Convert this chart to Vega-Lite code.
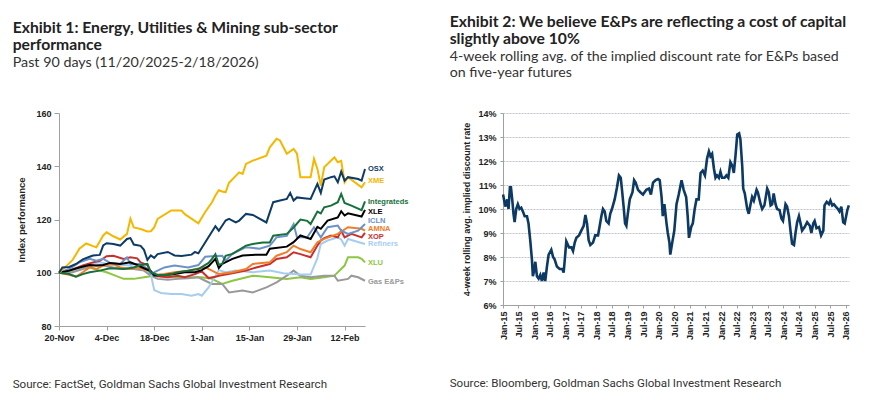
{
  "$schema": "https://vega.github.io/schema/vega-lite/v6.json",
  "padding": {"left": 12, "top": 13, "right": 5, "bottom": 5},
  "background": "white",
  "config": {"view": {"stroke": null}, "font": "Liberation Sans"},
  "spacing": 40,
  "datasets": {
    "perf": [
      {"s":"XLU","d":"2025-11-20","v":100},{"s":"XLU","d":"2025-11-23","v":100.2},{"s":"XLU","d":"2025-11-26","v":101.4},{"s":"XLU","d":"2025-11-28","v":102.7},{"s":"XLU","d":"2025-11-30","v":101.7},{"s":"XLU","d":"2025-12-02","v":100.8},{"s":"XLU","d":"2025-12-04","v":100.2},{"s":"XLU","d":"2025-12-06","v":99.2},{"s":"XLU","d":"2025-12-09","v":97.7},{"s":"XLU","d":"2025-12-12","v":97.7},{"s":"XLU","d":"2025-12-15","v":98.3},{"s":"XLU","d":"2025-12-18","v":98.9},{"s":"XLU","d":"2025-12-21","v":98.9},{"s":"XLU","d":"2025-12-25","v":98.3},{"s":"XLU","d":"2025-12-29","v":98.3},{"s":"XLU","d":"2026-01-01","v":98.3},{"s":"XLU","d":"2026-01-04","v":97.7},{"s":"XLU","d":"2026-01-07","v":95.8},{"s":"XLU","d":"2026-01-10","v":97},{"s":"XLU","d":"2026-01-16","v":98.9},{"s":"XLU","d":"2026-01-21","v":98.3},{"s":"XLU","d":"2026-01-26","v":97.7},{"s":"XLU","d":"2026-01-30","v":98.3},{"s":"XLU","d":"2026-02-02","v":97.7},{"s":"XLU","d":"2026-02-06","v":98.3},{"s":"XLU","d":"2026-02-09","v":98.9},{"s":"XLU","d":"2026-02-12","v":102.7},{"s":"XLU","d":"2026-02-13","v":105.8},{"s":"XLU","d":"2026-02-16","v":105.8},{"s":"XLU","d":"2026-02-17","v":105.2},{"s":"XLU","d":"2026-02-18","v":103.9},
      {"s":"Gas E&Ps","d":"2025-11-20","v":100},{"s":"Gas E&Ps","d":"2025-11-24","v":100.2},{"s":"Gas E&Ps","d":"2025-11-27","v":101.4},{"s":"Gas E&Ps","d":"2025-11-30","v":102.7},{"s":"Gas E&Ps","d":"2025-12-03","v":102.7},{"s":"Gas E&Ps","d":"2025-12-06","v":102},{"s":"Gas E&Ps","d":"2025-12-09","v":101.4},{"s":"Gas E&Ps","d":"2025-12-12","v":101.4},{"s":"Gas E&Ps","d":"2025-12-15","v":100.8},{"s":"Gas E&Ps","d":"2025-12-17","v":98.9},{"s":"Gas E&Ps","d":"2025-12-19","v":97.7},{"s":"Gas E&Ps","d":"2025-12-22","v":97.4},{"s":"Gas E&Ps","d":"2025-12-25","v":97.7},{"s":"Gas E&Ps","d":"2025-12-28","v":97.9},{"s":"Gas E&Ps","d":"2025-12-31","v":98.3},{"s":"Gas E&Ps","d":"2026-01-02","v":97},{"s":"Gas E&Ps","d":"2026-01-04","v":95.8},{"s":"Gas E&Ps","d":"2026-01-07","v":95.8},{"s":"Gas E&Ps","d":"2026-01-09","v":92.6},{"s":"Gas E&Ps","d":"2026-01-13","v":93.3},{"s":"Gas E&Ps","d":"2026-01-16","v":92.6},{"s":"Gas E&Ps","d":"2026-01-20","v":94.5},{"s":"Gas E&Ps","d":"2026-01-23","v":96.4},{"s":"Gas E&Ps","d":"2026-01-26","v":98.9},{"s":"Gas E&Ps","d":"2026-01-28","v":100.8},{"s":"Gas E&Ps","d":"2026-01-30","v":98.9},{"s":"Gas E&Ps","d":"2026-02-02","v":98.3},{"s":"Gas E&Ps","d":"2026-02-06","v":98.9},{"s":"Gas E&Ps","d":"2026-02-09","v":98.9},{"s":"Gas E&Ps","d":"2026-02-10","v":97},{"s":"Gas E&Ps","d":"2026-02-13","v":97.7},{"s":"Gas E&Ps","d":"2026-02-14","v":98.9},{"s":"Gas E&Ps","d":"2026-02-16","v":98.3},{"s":"Gas E&Ps","d":"2026-02-18","v":97},
      {"s":"Refiners","d":"2025-11-20","v":100},{"s":"Refiners","d":"2025-11-25","v":101.4},{"s":"Refiners","d":"2025-11-29","v":103.3},{"s":"Refiners","d":"2025-12-02","v":103.9},{"s":"Refiners","d":"2025-12-04","v":103.3},{"s":"Refiners","d":"2025-12-07","v":102.7},{"s":"Refiners","d":"2025-12-10","v":102.9},{"s":"Refiners","d":"2025-12-13","v":102},{"s":"Refiners","d":"2025-12-16","v":101.4},{"s":"Refiners","d":"2025-12-17","v":99.5},{"s":"Refiners","d":"2025-12-18","v":93.5},{"s":"Refiners","d":"2025-12-20","v":92.4},{"s":"Refiners","d":"2025-12-23","v":92},{"s":"Refiners","d":"2025-12-26","v":92},{"s":"Refiners","d":"2025-12-29","v":91.4},{"s":"Refiners","d":"2025-12-31","v":92},{"s":"Refiners","d":"2026-01-01","v":91.4},{"s":"Refiners","d":"2026-01-03","v":94.5},{"s":"Refiners","d":"2026-01-06","v":101},{"s":"Refiners","d":"2026-01-08","v":100.2},{"s":"Refiners","d":"2026-01-11","v":100.8},{"s":"Refiners","d":"2026-01-16","v":100.2},{"s":"Refiners","d":"2026-01-21","v":100.8},{"s":"Refiners","d":"2026-01-25","v":99.8},{"s":"Refiners","d":"2026-01-30","v":99.3},{"s":"Refiners","d":"2026-02-02","v":99.3},{"s":"Refiners","d":"2026-02-04","v":105.5},{"s":"Refiners","d":"2026-02-05","v":110.8},{"s":"Refiners","d":"2026-02-07","v":112.1},{"s":"Refiners","d":"2026-02-10","v":113.3},{"s":"Refiners","d":"2026-02-11","v":112.5},{"s":"Refiners","d":"2026-02-12","v":110.2},{"s":"Refiners","d":"2026-02-13","v":112.7},{"s":"Refiners","d":"2026-02-18","v":110.8},
      {"s":"XOP","d":"2025-11-20","v":100},{"s":"XOP","d":"2025-11-23","v":100.8},{"s":"XOP","d":"2025-11-27","v":102.7},{"s":"XOP","d":"2025-11-30","v":103.9},{"s":"XOP","d":"2025-12-02","v":104.5},{"s":"XOP","d":"2025-12-04","v":106.2},{"s":"XOP","d":"2025-12-06","v":106.4},{"s":"XOP","d":"2025-12-09","v":105.2},{"s":"XOP","d":"2025-12-11","v":105.8},{"s":"XOP","d":"2025-12-13","v":105.4},{"s":"XOP","d":"2025-12-14","v":103.9},{"s":"XOP","d":"2025-12-16","v":102.9},{"s":"XOP","d":"2025-12-17","v":100.2},{"s":"XOP","d":"2025-12-19","v":98.7},{"s":"XOP","d":"2025-12-22","v":98.3},{"s":"XOP","d":"2025-12-25","v":98.9},{"s":"XOP","d":"2025-12-27","v":98.3},{"s":"XOP","d":"2025-12-30","v":99.5},{"s":"XOP","d":"2026-01-01","v":100.5},{"s":"XOP","d":"2026-01-03","v":98},{"s":"XOP","d":"2026-01-05","v":98.5},{"s":"XOP","d":"2026-01-06","v":98.9},{"s":"XOP","d":"2026-01-10","v":99.8},{"s":"XOP","d":"2026-01-14","v":100.8},{"s":"XOP","d":"2026-01-17","v":102},{"s":"XOP","d":"2026-01-21","v":103.3},{"s":"XOP","d":"2026-01-23","v":105.2},{"s":"XOP","d":"2026-01-26","v":105.8},{"s":"XOP","d":"2026-01-28","v":107.7},{"s":"XOP","d":"2026-01-30","v":107},{"s":"XOP","d":"2026-02-02","v":105.8},{"s":"XOP","d":"2026-02-04","v":110.2},{"s":"XOP","d":"2026-02-05","v":112.1},{"s":"XOP","d":"2026-02-06","v":113},{"s":"XOP","d":"2026-02-08","v":114},{"s":"XOP","d":"2026-02-10","v":113.3},{"s":"XOP","d":"2026-02-11","v":115.8},{"s":"XOP","d":"2026-02-12","v":113.3},{"s":"XOP","d":"2026-02-14","v":114.6},{"s":"XOP","d":"2026-02-17","v":113.3},{"s":"XOP","d":"2026-02-18","v":115},
      {"s":"AMNA","d":"2025-11-20","v":100},{"s":"AMNA","d":"2025-11-23","v":99.2},{"s":"AMNA","d":"2025-11-25","v":98.5},{"s":"AMNA","d":"2025-11-27","v":100.2},{"s":"AMNA","d":"2025-11-29","v":102},{"s":"AMNA","d":"2025-12-01","v":101.4},{"s":"AMNA","d":"2025-12-03","v":102.7},{"s":"AMNA","d":"2025-12-06","v":103.3},{"s":"AMNA","d":"2025-12-08","v":102},{"s":"AMNA","d":"2025-12-11","v":101.4},{"s":"AMNA","d":"2025-12-13","v":102},{"s":"AMNA","d":"2025-12-15","v":101.4},{"s":"AMNA","d":"2025-12-17","v":100.2},{"s":"AMNA","d":"2025-12-18","v":99.2},{"s":"AMNA","d":"2025-12-21","v":99.5},{"s":"AMNA","d":"2025-12-24","v":100.2},{"s":"AMNA","d":"2025-12-28","v":100.8},{"s":"AMNA","d":"2025-12-31","v":101.6},{"s":"AMNA","d":"2026-01-02","v":102},{"s":"AMNA","d":"2026-01-04","v":100.8},{"s":"AMNA","d":"2026-01-06","v":99.5},{"s":"AMNA","d":"2026-01-10","v":100.2},{"s":"AMNA","d":"2026-01-14","v":101.4},{"s":"AMNA","d":"2026-01-16","v":103.3},{"s":"AMNA","d":"2026-01-21","v":103.9},{"s":"AMNA","d":"2026-01-23","v":106.4},{"s":"AMNA","d":"2026-01-26","v":107.7},{"s":"AMNA","d":"2026-01-28","v":110.2},{"s":"AMNA","d":"2026-01-30","v":108.9},{"s":"AMNA","d":"2026-02-02","v":107.7},{"s":"AMNA","d":"2026-02-04","v":111.4},{"s":"AMNA","d":"2026-02-06","v":112.7},{"s":"AMNA","d":"2026-02-10","v":114.6},{"s":"AMNA","d":"2026-02-13","v":117.1},{"s":"AMNA","d":"2026-02-17","v":116.5},{"s":"AMNA","d":"2026-02-18","v":115.8},
      {"s":"ICLN","d":"2025-11-20","v":100},{"s":"ICLN","d":"2025-11-23","v":101.4},{"s":"ICLN","d":"2025-11-26","v":103.9},{"s":"ICLN","d":"2025-11-29","v":105.2},{"s":"ICLN","d":"2025-12-01","v":104.5},{"s":"ICLN","d":"2025-12-03","v":105.2},{"s":"ICLN","d":"2025-12-05","v":103.7},{"s":"ICLN","d":"2025-12-08","v":103.3},{"s":"ICLN","d":"2025-12-10","v":105.8},{"s":"ICLN","d":"2025-12-11","v":103.3},{"s":"ICLN","d":"2025-12-14","v":103.3},{"s":"ICLN","d":"2025-12-16","v":101.4},{"s":"ICLN","d":"2025-12-17","v":99.5},{"s":"ICLN","d":"2025-12-19","v":100.8},{"s":"ICLN","d":"2025-12-21","v":102},{"s":"ICLN","d":"2025-12-24","v":102.7},{"s":"ICLN","d":"2025-12-28","v":102},{"s":"ICLN","d":"2025-12-31","v":102.9},{"s":"ICLN","d":"2026-01-02","v":106},{"s":"ICLN","d":"2026-01-04","v":106.2},{"s":"ICLN","d":"2026-01-07","v":106.4},{"s":"ICLN","d":"2026-01-08","v":104.5},{"s":"ICLN","d":"2026-01-10","v":107.1},{"s":"ICLN","d":"2026-01-14","v":109.6},{"s":"ICLN","d":"2026-01-18","v":109},{"s":"ICLN","d":"2026-01-21","v":110.2},{"s":"ICLN","d":"2026-01-23","v":113.3},{"s":"ICLN","d":"2026-01-26","v":113.9},{"s":"ICLN","d":"2026-01-28","v":118.3},{"s":"ICLN","d":"2026-01-29","v":113.3},{"s":"ICLN","d":"2026-02-01","v":113.3},{"s":"ICLN","d":"2026-02-03","v":117.1},{"s":"ICLN","d":"2026-02-05","v":113.3},{"s":"ICLN","d":"2026-02-07","v":117.1},{"s":"ICLN","d":"2026-02-10","v":117.7},{"s":"ICLN","d":"2026-02-11","v":115.8},{"s":"ICLN","d":"2026-02-13","v":114.6},{"s":"ICLN","d":"2026-02-16","v":115.8},{"s":"ICLN","d":"2026-02-18","v":118.3},
      {"s":"XLE","d":"2025-11-20","v":100},{"s":"XLE","d":"2025-11-23","v":100.8},{"s":"XLE","d":"2025-11-26","v":102},{"s":"XLE","d":"2025-11-29","v":102.9},{"s":"XLE","d":"2025-12-01","v":102.7},{"s":"XLE","d":"2025-12-03","v":102.9},{"s":"XLE","d":"2025-12-05","v":103.7},{"s":"XLE","d":"2025-12-08","v":103.3},{"s":"XLE","d":"2025-12-11","v":103.9},{"s":"XLE","d":"2025-12-13","v":102.9},{"s":"XLE","d":"2025-12-15","v":101.7},{"s":"XLE","d":"2025-12-17","v":100.6},{"s":"XLE","d":"2025-12-18","v":99},{"s":"XLE","d":"2025-12-21","v":99.2},{"s":"XLE","d":"2025-12-24","v":99.5},{"s":"XLE","d":"2025-12-27","v":100.2},{"s":"XLE","d":"2025-12-30","v":100.2},{"s":"XLE","d":"2026-01-01","v":101},{"s":"XLE","d":"2026-01-03","v":102.5},{"s":"XLE","d":"2026-01-05","v":105.2},{"s":"XLE","d":"2026-01-06","v":101.8},{"s":"XLE","d":"2026-01-07","v":103.3},{"s":"XLE","d":"2026-01-10","v":105.2},{"s":"XLE","d":"2026-01-13","v":106.5},{"s":"XLE","d":"2026-01-17","v":106.8},{"s":"XLE","d":"2026-01-20","v":106.8},{"s":"XLE","d":"2026-01-21","v":109},{"s":"XLE","d":"2026-01-26","v":109.8},{"s":"XLE","d":"2026-01-28","v":111.5},{"s":"XLE","d":"2026-01-30","v":114},{"s":"XLE","d":"2026-02-02","v":112.7},{"s":"XLE","d":"2026-02-04","v":117.2},{"s":"XLE","d":"2026-02-05","v":116.5},{"s":"XLE","d":"2026-02-07","v":119.6},{"s":"XLE","d":"2026-02-10","v":120.8},{"s":"XLE","d":"2026-02-11","v":123.1},{"s":"XLE","d":"2026-02-12","v":121.5},{"s":"XLE","d":"2026-02-13","v":122.3},{"s":"XLE","d":"2026-02-17","v":121.1},{"s":"XLE","d":"2026-02-18","v":123.6},
      {"s":"Integrateds","d":"2025-11-20","v":100},{"s":"Integrateds","d":"2025-11-23","v":99.5},{"s":"Integrateds","d":"2025-11-25","v":98.5},{"s":"Integrateds","d":"2025-11-27","v":99.5},{"s":"Integrateds","d":"2025-11-29","v":100.2},{"s":"Integrateds","d":"2025-12-02","v":100.8},{"s":"Integrateds","d":"2025-12-05","v":101.7},{"s":"Integrateds","d":"2025-12-09","v":101.4},{"s":"Integrateds","d":"2025-12-12","v":102},{"s":"Integrateds","d":"2025-12-14","v":102.9},{"s":"Integrateds","d":"2025-12-16","v":103.3},{"s":"Integrateds","d":"2025-12-17","v":100.2},{"s":"Integrateds","d":"2025-12-19","v":99.2},{"s":"Integrateds","d":"2025-12-22","v":99.2},{"s":"Integrateds","d":"2025-12-25","v":100.2},{"s":"Integrateds","d":"2025-12-28","v":100.8},{"s":"Integrateds","d":"2025-12-31","v":101.4},{"s":"Integrateds","d":"2026-01-03","v":103.7},{"s":"Integrateds","d":"2026-01-04","v":105.2},{"s":"Integrateds","d":"2026-01-05","v":107},{"s":"Integrateds","d":"2026-01-06","v":103},{"s":"Integrateds","d":"2026-01-07","v":103.3},{"s":"Integrateds","d":"2026-01-08","v":106.4},{"s":"Integrateds","d":"2026-01-10","v":107.1},{"s":"Integrateds","d":"2026-01-14","v":110.2},{"s":"Integrateds","d":"2026-01-16","v":110.8},{"s":"Integrateds","d":"2026-01-19","v":111.4},{"s":"Integrateds","d":"2026-01-21","v":111.4},{"s":"Integrateds","d":"2026-01-22","v":113.9},{"s":"Integrateds","d":"2026-01-26","v":114.6},{"s":"Integrateds","d":"2026-01-28","v":117},{"s":"Integrateds","d":"2026-01-30","v":120},{"s":"Integrateds","d":"2026-02-01","v":119.5},{"s":"Integrateds","d":"2026-02-02","v":118.3},{"s":"Integrateds","d":"2026-02-04","v":123},{"s":"Integrateds","d":"2026-02-05","v":122.3},{"s":"Integrateds","d":"2026-02-06","v":124.6},{"s":"Integrateds","d":"2026-02-08","v":125.2},{"s":"Integrateds","d":"2026-02-10","v":126.5},{"s":"Integrateds","d":"2026-02-11","v":129.6},{"s":"Integrateds","d":"2026-02-12","v":126.2},{"s":"Integrateds","d":"2026-02-14","v":125.2},{"s":"Integrateds","d":"2026-02-17","v":123.5},{"s":"Integrateds","d":"2026-02-18","v":126.8},
      {"s":"XME","d":"2025-11-20","v":100},{"s":"XME","d":"2025-11-22","v":102.3},{"s":"XME","d":"2025-11-24","v":104.8},{"s":"XME","d":"2025-11-26","v":109},{"s":"XME","d":"2025-11-28","v":111},{"s":"XME","d":"2025-11-30","v":110},{"s":"XME","d":"2025-12-01","v":109.6},{"s":"XME","d":"2025-12-03","v":114},{"s":"XME","d":"2025-12-04","v":115.2},{"s":"XME","d":"2025-12-06","v":113.7},{"s":"XME","d":"2025-12-08","v":112.5},{"s":"XME","d":"2025-12-10","v":114.6},{"s":"XME","d":"2025-12-11","v":120.3},{"s":"XME","d":"2025-12-12","v":117},{"s":"XME","d":"2025-12-14","v":116.4},{"s":"XME","d":"2025-12-16","v":115.5},{"s":"XME","d":"2025-12-17","v":115.6},{"s":"XME","d":"2025-12-18","v":117},{"s":"XME","d":"2025-12-19","v":120.2},{"s":"XME","d":"2025-12-23","v":123.4},{"s":"XME","d":"2025-12-26","v":123.4},{"s":"XME","d":"2025-12-27","v":122},{"s":"XME","d":"2025-12-31","v":118.6},{"s":"XME","d":"2026-01-02","v":122.8},{"s":"XME","d":"2026-01-04","v":126.5},{"s":"XME","d":"2026-01-05","v":129},{"s":"XME","d":"2026-01-06","v":131},{"s":"XME","d":"2026-01-07","v":130.5},{"s":"XME","d":"2026-01-08","v":130.2},{"s":"XME","d":"2026-01-09","v":133.8},{"s":"XME","d":"2026-01-12","v":137.7},{"s":"XME","d":"2026-01-13","v":137.1},{"s":"XME","d":"2026-01-14","v":140.9},{"s":"XME","d":"2026-01-16","v":142.1},{"s":"XME","d":"2026-01-20","v":144},{"s":"XME","d":"2026-01-21","v":147.1},{"s":"XME","d":"2026-01-23","v":150.3},{"s":"XME","d":"2026-01-24","v":149.7},{"s":"XME","d":"2026-01-26","v":144.7},{"s":"XME","d":"2026-01-28","v":146.5},{"s":"XME","d":"2026-01-29","v":144.7},{"s":"XME","d":"2026-01-30","v":135.9},{"s":"XME","d":"2026-02-02","v":135.9},{"s":"XME","d":"2026-02-03","v":142.8},{"s":"XME","d":"2026-02-04","v":139},{"s":"XME","d":"2026-02-05","v":132.7},{"s":"XME","d":"2026-02-06","v":139.6},{"s":"XME","d":"2026-02-09","v":143.4},{"s":"XME","d":"2026-02-10","v":141.5},{"s":"XME","d":"2026-02-11","v":142},{"s":"XME","d":"2026-02-12","v":134},{"s":"XME","d":"2026-02-13","v":135.9},{"s":"XME","d":"2026-02-17","v":132.1},{"s":"XME","d":"2026-02-18","v":134},
      {"s":"OSX","d":"2025-11-20","v":100},{"s":"OSX","d":"2025-11-21","v":102},{"s":"OSX","d":"2025-11-23","v":102.2},{"s":"OSX","d":"2025-11-25","v":103.3},{"s":"OSX","d":"2025-11-27","v":105},{"s":"OSX","d":"2025-11-29","v":106},{"s":"OSX","d":"2025-11-30","v":106.5},{"s":"OSX","d":"2025-12-02","v":106.7},{"s":"OSX","d":"2025-12-03","v":110.3},{"s":"OSX","d":"2025-12-04","v":111.1},{"s":"OSX","d":"2025-12-06","v":110.8},{"s":"OSX","d":"2025-12-08","v":110.2},{"s":"OSX","d":"2025-12-10","v":112.7},{"s":"OSX","d":"2025-12-11","v":113},{"s":"OSX","d":"2025-12-12","v":110.6},{"s":"OSX","d":"2025-12-14","v":110.1},{"s":"OSX","d":"2025-12-15","v":108.6},{"s":"OSX","d":"2025-12-16","v":104.8},{"s":"OSX","d":"2025-12-17","v":106.5},{"s":"OSX","d":"2025-12-18","v":105.6},{"s":"OSX","d":"2025-12-19","v":107},{"s":"OSX","d":"2025-12-22","v":107.8},{"s":"OSX","d":"2025-12-24","v":106.5},{"s":"OSX","d":"2025-12-26","v":106.3},{"s":"OSX","d":"2025-12-29","v":106.8},{"s":"OSX","d":"2025-12-30","v":107.8},{"s":"OSX","d":"2025-12-31","v":107.3},{"s":"OSX","d":"2026-01-03","v":113.4},{"s":"OSX","d":"2026-01-05","v":117.5},{"s":"OSX","d":"2026-01-06","v":115.8},{"s":"OSX","d":"2026-01-08","v":119.6},{"s":"OSX","d":"2026-01-09","v":120.2},{"s":"OSX","d":"2026-01-11","v":118.9},{"s":"OSX","d":"2026-01-12","v":119.6},{"s":"OSX","d":"2026-01-14","v":122.1},{"s":"OSX","d":"2026-01-16","v":121.7},{"s":"OSX","d":"2026-01-20","v":118.9},{"s":"OSX","d":"2026-01-22","v":126.5},{"s":"OSX","d":"2026-01-24","v":127.1},{"s":"OSX","d":"2026-01-26","v":127.7},{"s":"OSX","d":"2026-01-27","v":130},{"s":"OSX","d":"2026-01-28","v":127.1},{"s":"OSX","d":"2026-01-29","v":128.3},{"s":"OSX","d":"2026-01-31","v":128},{"s":"OSX","d":"2026-02-02","v":127.7},{"s":"OSX","d":"2026-02-04","v":133.4},{"s":"OSX","d":"2026-02-05","v":130},{"s":"OSX","d":"2026-02-06","v":135},{"s":"OSX","d":"2026-02-08","v":135.9},{"s":"OSX","d":"2026-02-09","v":136.2},{"s":"OSX","d":"2026-02-10","v":134},{"s":"OSX","d":"2026-02-11","v":138},{"s":"OSX","d":"2026-02-12","v":134.6},{"s":"OSX","d":"2026-02-13","v":135.9},{"s":"OSX","d":"2026-02-16","v":135.2},{"s":"OSX","d":"2026-02-17","v":134.6},{"s":"OSX","d":"2026-02-18","v":139}
    ],
    "labels": [
      {"s":"OSX","d":"2026-02-18","v":138.9},{"s":"XME","d":"2026-02-18","v":134.3},{"s":"Integrateds","d":"2026-02-18","v":126.5},{"s":"XLE","d":"2026-02-18","v":122.7},{"s":"ICLN","d":"2026-02-18","v":119.4},{"s":"AMNA","d":"2026-02-18","v":116.5},{"s":"XOP","d":"2026-02-18","v":113.6},{"s":"Refiners","d":"2026-02-18","v":110.7},{"s":"XLU","d":"2026-02-18","v":103.5},{"s":"Gas E&Ps","d":"2026-02-18","v":96.4}
    ],
    "rate": [
      {"d":"2015-01-02","v":10.6},{"d":"2015-01-28","v":10.1},{"d":"2015-02-20","v":10.4},{"d":"2015-03-07","v":10.0},{"d":"2015-03-23","v":10.9},{"d":"2015-04-04","v":10.9},{"d":"2015-04-19","v":10.4},{"d":"2015-05-04","v":9.8},{"d":"2015-05-17","v":9.45},{"d":"2015-06-05","v":10.0},{"d":"2015-06-24","v":10.2},{"d":"2015-07-14","v":10.0},{"d":"2015-08-03","v":10.05},{"d":"2015-08-22","v":9.9},{"d":"2015-09-12","v":9.7},{"d":"2015-10-09","v":9.7},{"d":"2015-10-27","v":9.4},{"d":"2015-11-16","v":8.7},{"d":"2015-12-06","v":7.9},{"d":"2015-12-17","v":7.2},{"d":"2015-12-30","v":7.4},
      {"d":"2016-01-15","v":7.8},{"d":"2016-02-03","v":7.2},{"d":"2016-02-23","v":7.1},{"d":"2016-03-13","v":7.25},{"d":"2016-04-01","v":7.0},{"d":"2016-04-21","v":7.35},{"d":"2016-05-10","v":7.0},{"d":"2016-05-30","v":7.6},{"d":"2016-06-19","v":8.1},{"d":"2016-07-20","v":8.3},{"d":"2016-08-10","v":8.0},{"d":"2016-08-28","v":7.9},{"d":"2016-09-24","v":7.6},{"d":"2016-10-26","v":7.5},{"d":"2016-11-26","v":7.5},{"d":"2016-12-12","v":7.35},{"d":"2016-12-28","v":8.0},
      {"d":"2017-01-12","v":8.65},{"d":"2017-02-13","v":8.4},{"d":"2017-03-13","v":8.4},{"d":"2017-04-01","v":8.25},{"d":"2017-04-21","v":8.6},{"d":"2017-05-10","v":8.8},{"d":"2017-06-10","v":8.9},{"d":"2017-07-07","v":9.1},{"d":"2017-08-04","v":9.3},{"d":"2017-08-24","v":9.75},{"d":"2017-09-12","v":9.4},{"d":"2017-10-01","v":8.7},{"d":"2017-10-21","v":8.5},{"d":"2017-11-21","v":8.6},{"d":"2017-12-17","v":8.9},
      {"d":"2018-01-19","v":8.9},{"d":"2018-02-08","v":9.3},{"d":"2018-02-27","v":9.7},{"d":"2018-03-18","v":10.0},{"d":"2018-04-07","v":9.9},{"d":"2018-04-26","v":9.5},{"d":"2018-05-23","v":9.4},{"d":"2018-06-11","v":9.8},{"d":"2018-07-01","v":10.0},{"d":"2018-08-02","v":10.4},{"d":"2018-08-29","v":10.9},{"d":"2018-09-21","v":11.4},{"d":"2018-10-12","v":11.3},{"d":"2018-10-27","v":10.8},{"d":"2018-11-15","v":10.1},{"d":"2018-12-02","v":9.4},{"d":"2018-12-17","v":9.3},
      {"d":"2019-01-03","v":9.8},{"d":"2019-01-26","v":10.4},{"d":"2019-02-27","v":10.7},{"d":"2019-03-18","v":11.2},{"d":"2019-04-05","v":11.1},{"d":"2019-05-03","v":10.8},{"d":"2019-05-30","v":10.7},{"d":"2019-06-30","v":10.6},{"d":"2019-08-08","v":10.8},{"d":"2019-09-08","v":10.85},{"d":"2019-10-01","v":10.6},{"d":"2019-10-26","v":11.1},{"d":"2019-11-25","v":11.2},{"d":"2019-12-24","v":11.25},
      {"d":"2020-01-12","v":11.2},{"d":"2020-02-03","v":10.5},{"d":"2020-02-17","v":9.7},{"d":"2020-03-07","v":10.2},{"d":"2020-04-01","v":9.4},{"d":"2020-04-16","v":9.0},{"d":"2020-05-05","v":8.6},{"d":"2020-05-15","v":8.1},{"d":"2020-06-07","v":8.6},{"d":"2020-07-01","v":9.1},{"d":"2020-07-27","v":10.2},{"d":"2020-08-22","v":10.6},{"d":"2020-09-24","v":11.2},{"d":"2020-10-19","v":10.8},{"d":"2020-11-17","v":10.5},{"d":"2020-12-05","v":9.7},{"d":"2020-12-20","v":8.8},
      {"d":"2021-01-15","v":9.25},{"d":"2021-02-03","v":9.4},{"d":"2021-02-25","v":10.0},{"d":"2021-03-18","v":10.4},{"d":"2021-04-13","v":10.4},{"d":"2021-05-05","v":11.5},{"d":"2021-05-30","v":11.6},{"d":"2021-06-25","v":11.4},{"d":"2021-07-20","v":12.1},{"d":"2021-08-11","v":12.4},{"d":"2021-08-29","v":12.2},{"d":"2021-09-17","v":12.3},{"d":"2021-10-08","v":11.7},{"d":"2021-10-27","v":11.3},{"d":"2021-11-14","v":11.4},{"d":"2021-12-06","v":11.3},{"d":"2021-12-24","v":11.55},
      {"d":"2022-01-12","v":11.3},{"d":"2022-02-10","v":11.3},{"d":"2022-03-04","v":11.4},{"d":"2022-03-26","v":11.3},{"d":"2022-04-20","v":11.95},{"d":"2022-05-12","v":11.8},{"d":"2022-05-30","v":11.5},{"d":"2022-06-18","v":12.2},{"d":"2022-07-09","v":13.1},{"d":"2022-07-31","v":13.15},{"d":"2022-08-15","v":12.9},{"d":"2022-09-06","v":11.75},{"d":"2022-09-17","v":10.85},{"d":"2022-10-05","v":10.65},{"d":"2022-11-03","v":10.0},{"d":"2022-11-21","v":9.8},{"d":"2022-12-09","v":10.15},{"d":"2022-12-30","v":10.5},
      {"d":"2023-01-19","v":10.35},{"d":"2023-02-21","v":10.8},{"d":"2023-03-07","v":10.7},{"d":"2023-04-09","v":10.2},{"d":"2023-04-27","v":10.0},{"d":"2023-05-23","v":10.15},{"d":"2023-06-25","v":10.85},{"d":"2023-07-13","v":10.7},{"d":"2023-08-04","v":10.15},{"d":"2023-08-22","v":10.2},{"d":"2023-09-09","v":10.65},{"d":"2023-10-01","v":10.2},{"d":"2023-10-19","v":10.0},{"d":"2023-11-17","v":9.95},{"d":"2023-12-09","v":9.6},{"d":"2023-12-27","v":9.5},
      {"d":"2024-01-26","v":10.2},{"d":"2024-02-13","v":10.1},{"d":"2024-03-06","v":9.7},{"d":"2024-03-24","v":9.1},{"d":"2024-04-12","v":8.55},{"d":"2024-05-04","v":8.5},{"d":"2024-05-22","v":9.0},{"d":"2024-06-10","v":9.45},{"d":"2024-07-01","v":9.7},{"d":"2024-07-20","v":9.4},{"d":"2024-08-07","v":9.1},{"d":"2024-09-06","v":9.25},{"d":"2024-10-05","v":9.45},{"d":"2024-11-06","v":9.3},{"d":"2024-11-24","v":9.0},{"d":"2024-12-16","v":9.4},
      {"d":"2025-01-01","v":9.5},{"d":"2025-01-23","v":9.2},{"d":"2025-02-21","v":9.25},{"d":"2025-03-18","v":8.9},{"d":"2025-04-13","v":9.1},{"d":"2025-04-27","v":10.15},{"d":"2025-05-23","v":10.3},{"d":"2025-06-18","v":10.2},{"d":"2025-07-05","v":10.35},{"d":"2025-07-27","v":10.15},{"d":"2025-08-15","v":10.2},{"d":"2025-09-06","v":10.1},{"d":"2025-10-01","v":10.0},{"d":"2025-10-19","v":9.9},{"d":"2025-11-10","v":10.1},{"d":"2025-12-02","v":9.45},{"d":"2025-12-20","v":9.4},
      {"d":"2026-01-19","v":9.95},{"d":"2026-02-06","v":10.15}
    ]
  },
  "hconcat": [
    {
      "title": {"text": "Source: FactSet, Goldman Sachs Global Investment Research", "orient": "bottom", "anchor": "start", "frame": "bounds", "font": "Roboto", "fontSize": 11.6, "fontWeight": "normal", "color": "#333333", "offset": 36.5},
      "vconcat": [
        {
          "title": {"text": ["Exhibit 1: Energy, Utilities & Mining sub-sector", "performance"], "subtitle": "Past 90 days (11/20/2025-2/18/2026)", "anchor": "start", "frame": "group", "dx": -46.3, "offset": 38, "font": "Lato", "fontSize": 15.7, "fontWeight": "bold", "lineHeight": 17, "color": "#222222", "subtitleFont": "Lato", "subtitleFontSize": 14.3, "subtitleColor": "#333333", "subtitlePadding": 2},
          "width": 306,
          "height": 213,
          "layer": [
            {
              "data": {"name": "perf"},
              "mark": {"type": "line", "strokeWidth": 2},
              "encoding": {
                "x": {"field": "d", "type": "temporal",
                  "scale": {"type": "utc", "domain": [{"year": 2025, "month": 11, "date": 20, "utc": true}, {"year": 2026, "month": 2, "date": 18, "utc": true}]},
                  "axis": {"title": null, "values": [{"year": 2025, "month": 11, "date": 20, "utc": true}, {"year": 2025, "month": 12, "date": 4, "utc": true}, {"year": 2025, "month": 12, "date": 18, "utc": true}, {"year": 2026, "month": 1, "date": 1, "utc": true}, {"year": 2026, "month": 1, "date": 15, "utc": true}, {"year": 2026, "month": 1, "date": 29, "utc": true}, {"year": 2026, "month": 2, "date": 12, "utc": true}],
                    "labelExpr": "utcFormat(datum.value, '%-d-%b')", "labelFont": "Liberation Sans", "labelFontWeight": "bold", "labelFontSize": 9, "labelColor": "#222222", "domainColor": "#a0a0a0", "tickColor": "#a0a0a0", "tickSize": 4, "labelPadding": 3, "grid": false, "labelFlush": false, "labelOverlap": false}},
                "y": {"field": "v", "type": "quantitative",
                  "scale": {"domain": [80, 160], "nice": false, "zero": false},
                  "axis": {"title": "Index performance", "values": [80, 90, 100, 110, 120, 130, 140, 150, 160], "titleFont": "Liberation Sans", "titleFontWeight": "bold", "titleFontSize": 9.5, "titleColor": "#222222", "titlePadding": 9, "labelFont": "Liberation Sans", "labelFontWeight": "bold", "labelFontSize": 9, "labelColor": "#222222", "domainColor": "#a0a0a0", "tickColor": "#a0a0a0", "tickSize": 5, "labelPadding": 3, "grid": false}},
                "color": {"field": "s", "type": "nominal", "legend": null,
                  "scale": {"domain": ["OSX", "XME", "Integrateds", "XLE", "ICLN", "AMNA", "XOP", "Refiners", "XLU", "Gas E&Ps"],
                            "range": ["#0d3b66", "#f5b700", "#17703c", "#000000", "#6b93c9", "#f07d2a", "#c8302e", "#a6cdee", "#8dc641", "#999999"]}}
              }
            },
            {
              "data": {"name": "labels"},
              "mark": {"type": "text", "align": "left", "baseline": "middle", "dx": 3, "font": "Liberation Sans", "fontWeight": "bold", "fontSize": 7.5},
              "encoding": {
                "x": {"field": "d", "type": "temporal"},
                "y": {"field": "v", "type": "quantitative"},
                "text": {"field": "s"},
                "color": {"field": "s", "type": "nominal", "legend": null}
              }
            }
          ]
        }
      ]
    },
    {
      "title": {"text": "Source: Bloomberg, Goldman Sachs Global Investment Research", "orient": "bottom", "anchor": "start", "frame": "bounds", "font": "Roboto", "fontSize": 11.6, "fontWeight": "normal", "color": "#333333", "offset": 38},
      "vconcat": [
        {
          "title": {"text": ["Exhibit 2: We believe E&Ps are reflecting a cost of capital", "slightly above 10%"], "subtitle": ["4-week rolling avg. of the implied discount rate for E&Ps based", "on five-year futures"], "anchor": "start", "frame": "group", "dx": -53.3, "offset": 28.3, "font": "Lato", "fontSize": 15.7, "fontWeight": "bold", "lineHeight": 17, "color": "#222222", "subtitleFont": "Lato", "subtitleFontSize": 14.2, "subtitleLineHeight": 16, "subtitleColor": "#333333", "subtitlePadding": 2},
          "width": 346,
          "height": 192,
          "data": {"name": "rate"},
          "mark": {"type": "line", "strokeWidth": 2.6, "color": "#0c3a64"},
          "encoding": {
            "x": {"field": "d", "type": "temporal",
              "scale": {"type": "utc", "domain": [{"year": 2015, "month": 1, "date": 1, "utc": true}, {"year": 2026, "month": 2, "date": 8, "utc": true}]},
              "axis": {"title": null,
                "values": [{"year": 2015, "month": 1, "date": 1, "utc": true}, {"year": 2015, "month": 7, "date": 1, "utc": true}, {"year": 2016, "month": 1, "date": 1, "utc": true}, {"year": 2016, "month": 7, "date": 1, "utc": true}, {"year": 2017, "month": 1, "date": 1, "utc": true}, {"year": 2017, "month": 7, "date": 1, "utc": true}, {"year": 2018, "month": 1, "date": 1, "utc": true}, {"year": 2018, "month": 7, "date": 1, "utc": true}, {"year": 2019, "month": 1, "date": 1, "utc": true}, {"year": 2019, "month": 7, "date": 1, "utc": true}, {"year": 2020, "month": 1, "date": 1, "utc": true}, {"year": 2020, "month": 7, "date": 1, "utc": true}, {"year": 2021, "month": 1, "date": 1, "utc": true}, {"year": 2021, "month": 7, "date": 1, "utc": true}, {"year": 2022, "month": 1, "date": 1, "utc": true}, {"year": 2022, "month": 7, "date": 1, "utc": true}, {"year": 2023, "month": 1, "date": 1, "utc": true}, {"year": 2023, "month": 7, "date": 1, "utc": true}, {"year": 2024, "month": 1, "date": 1, "utc": true}, {"year": 2024, "month": 7, "date": 1, "utc": true}, {"year": 2025, "month": 1, "date": 1, "utc": true}, {"year": 2025, "month": 7, "date": 1, "utc": true}, {"year": 2026, "month": 1, "date": 1, "utc": true}],
                "labelExpr": "utcFormat(datum.value, '%b-%y')", "labelAngle": 270, "labelFont": "Liberation Sans", "labelFontWeight": "bold", "labelFontSize": 9, "labelColor": "#222222", "domainColor": "#a0a0a0", "tickColor": "#a0a0a0", "tickSize": 3, "labelPadding": 3, "grid": false, "labelFlush": false, "labelOverlap": false}},
            "y": {"field": "v", "type": "quantitative",
              "scale": {"domain": [6, 14], "nice": false, "zero": false},
              "axis": {"title": "4-week rolling avg. implied discount rate", "values": [6, 7, 8, 9, 10, 11, 12, 13, 14], "labelExpr": "datum.value + '%'", "titleFont": "Liberation Sans", "titleFontWeight": "bold", "titleFontSize": 9, "titleColor": "#222222", "titlePadding": 6, "labelFont": "Liberation Sans", "labelFontWeight": "bold", "labelFontSize": 9, "labelColor": "#222222", "domainColor": "#a0a0a0", "tickColor": "#a0a0a0", "tickSize": 3, "labelPadding": 4, "grid": true, "gridColor": "#bfc3cc", "gridDash": [2, 1], "gridWidth": 1}}
          }
        }
      ]
    }
  ]
}
